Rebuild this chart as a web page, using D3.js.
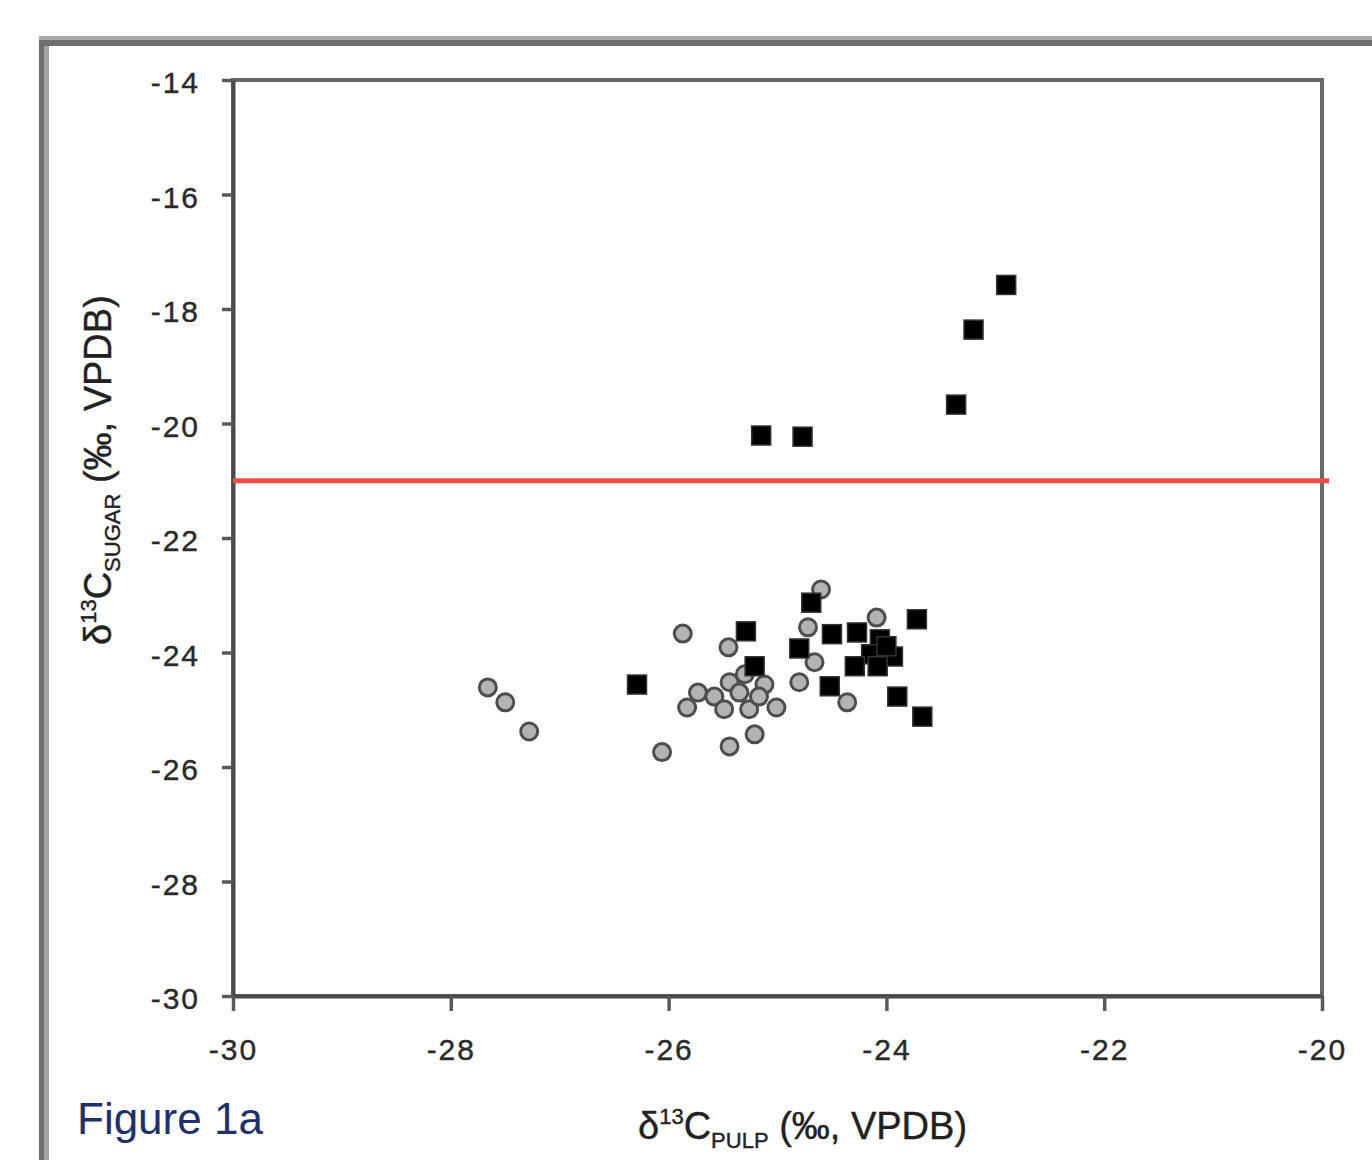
<!DOCTYPE html>
<html><head><meta charset="utf-8">
<script src="https://cdn.jsdelivr.net/npm/d3@7"></script>
<style>
html,body{margin:0;padding:0;background:#fff;}
svg text{font-family:"Liberation Sans",Arial,sans-serif;}
</style></head>
<body>
<svg id="chart" width="1372" height="1160"></svg>
<script>
// ---- data ----
const xTicks = [-30, -28, -26, -24, -22, -20];
const yTicks = [-30, -28, -26, -24, -22, -20, -18, -16, -14];
const thresholdSugar = -21;

// grey circles: [pulp, sugar]
const circlePulp  = [-27.66,-27.50,-27.28,-26.06,-25.87,-25.45,-25.73,-25.58,-25.44,-25.83,-25.49,-25.26,-25.35,-25.12,-25.17,-25.01,-25.21,-25.44,-24.80,-24.72,-24.60,-24.66,-24.36,-24.09,-25.30];
const circleSugar = [-24.61,-24.87,-25.38,-25.74,-23.67,-23.91,-24.70,-24.77,-24.52,-24.96,-24.99,-24.99,-24.70,-24.56,-24.77,-24.96,-25.43,-25.64,-24.52,-23.56,-22.90,-24.17,-24.87,-23.39,-24.38];

// black squares: [pulp, sugar]
const squarePulp  = [-22.90,-23.20,-23.36,-25.15,-24.77,-26.29,-25.29,-25.21,-24.69,-24.80,-24.50,-24.52,-24.27,-24.06,-24.14,-23.94,-24.29,-24.08,-24.00,-23.72,-23.90,-23.67];
const squareSugar = [-17.58,-18.36,-19.67,-20.21,-20.23,-24.56,-23.63,-24.24,-23.13,-23.93,-23.68,-24.59,-23.65,-23.77,-24.03,-24.07,-24.24,-24.24,-23.89,-23.42,-24.77,-25.12];

// ---- layout ----
const svg = d3.select("#chart");
const L = 233, R = 1322, T = 80, B = 996;
const x = d3.scaleLinear().domain([-30, -20]).range([L, R]);
const y = d3.scaleLinear().domain([-30, -14]).range([B, T]);

// outer page frame
svg.append("rect").attr("x",39).attr("y",36).attr("width",1340).attr("height",4).attr("fill","#a8a8a8");
svg.append("rect").attr("x",39).attr("y",40).attr("width",1340).attr("height",6).attr("fill","#6e6e6e");
svg.append("rect").attr("x",39).attr("y",40).attr("width",5).attr("height",1130).attr("fill","#6e6e6e");
svg.append("rect").attr("x",44).attr("y",46).attr("width",5).attr("height",1124).attr("fill","#a4a4a4");

// plot frame
svg.append("rect").attr("x",L).attr("y",T).attr("width",R-L).attr("height",B-T)
  .attr("fill","none").attr("stroke","#686868").attr("stroke-width",4);

// axes
const xAxis = svg.append("g").attr("transform",`translate(0,${B})`)
  .call(d3.axisBottom(x).tickValues(xTicks).tickSize(15).tickSizeOuter(0).tickPadding(22).tickFormat(d3.format("d")));
const yAxis = svg.append("g").attr("transform",`translate(${L},0)`)
  .call(d3.axisLeft(y).tickValues(yTicks).tickSize(11).tickSizeOuter(0).tickPadding(22).tickFormat(d3.format("d")));
[xAxis,yAxis].forEach(g=>{
  g.select(".domain").attr("stroke","#4a4a4a").attr("stroke-width",4);
  g.selectAll(".tick line").attr("stroke","#5a5a5a").attr("stroke-width",3.5);
  g.selectAll(".tick text").attr("fill","#2a2a2a").style("font-size","30px").style("letter-spacing","2px")
    .attr("stroke","#2a2a2a").attr("stroke-width",0.4);
});
yAxis.selectAll(".tick text").attr("dy","0.42em");
xAxis.selectAll(".tick text").attr("dy","0.9em");
xAxis.selectAll(".tick text").text(d=>String(d));
yAxis.selectAll(".tick text").text(d=>String(d));

// threshold line
svg.append("line").attr("x1",L).attr("x2",R+7).attr("y1",y(thresholdSugar)).attr("y2",y(thresholdSugar))
  .attr("stroke","#f04a4e").attr("stroke-width",5);

// circles
svg.append("g").selectAll("circle").data(circlePulp.map((p,i)=>[p,circleSugar[i]])).join("circle")
  .attr("cx",d=>x(d[0])).attr("cy",d=>y(d[1])).attr("r",8.5)
  .attr("fill","#b3b3b3").attr("stroke","#4d4d4d").attr("stroke-width",3);

// squares
const S = 19;
svg.append("g").selectAll("rect").data(squarePulp.map((p,i)=>[p,squareSugar[i]])).join("rect")
  .attr("x",d=>x(d[0])-S/2).attr("y",d=>y(d[1])-S/2).attr("width",S).attr("height",S)
  .attr("fill","#000").attr("stroke","#333").attr("stroke-width",1.5);

// x title
const xt = svg.append("text").attr("x",638).attr("y",1139).attr("fill","#222").style("font-size","38px")
  .attr("stroke","#222").attr("stroke-width",0.4);
xt.append("tspan").text("δ");
xt.append("tspan").attr("dy",-15).style("font-size","22px").text("13");
xt.append("tspan").attr("dy",15).text("C");
xt.append("tspan").attr("dy",9).style("font-size","22px").text("PULP");
xt.append("tspan").attr("dy",-9).text(" (‰, VPDB)");

// y title
const yt = svg.append("text").attr("transform","translate(111,645) rotate(-90)").attr("fill","#222").style("font-size","38px")
  .attr("stroke","#222").attr("stroke-width",0.4);
yt.append("tspan").text("δ");
yt.append("tspan").attr("dy",-15).style("font-size","22px").text("13");
yt.append("tspan").attr("dy",15).text("C");
yt.append("tspan").attr("dy",9).style("font-size","22px").text("SUGAR");
yt.append("tspan").attr("dy",-9).text(" (‰, VPDB)");

// figure label
svg.append("text").attr("x",77).attr("y",1134).attr("fill","#22306a").style("font-size","44px").text("Figure 1a");
</script>
</body></html>
